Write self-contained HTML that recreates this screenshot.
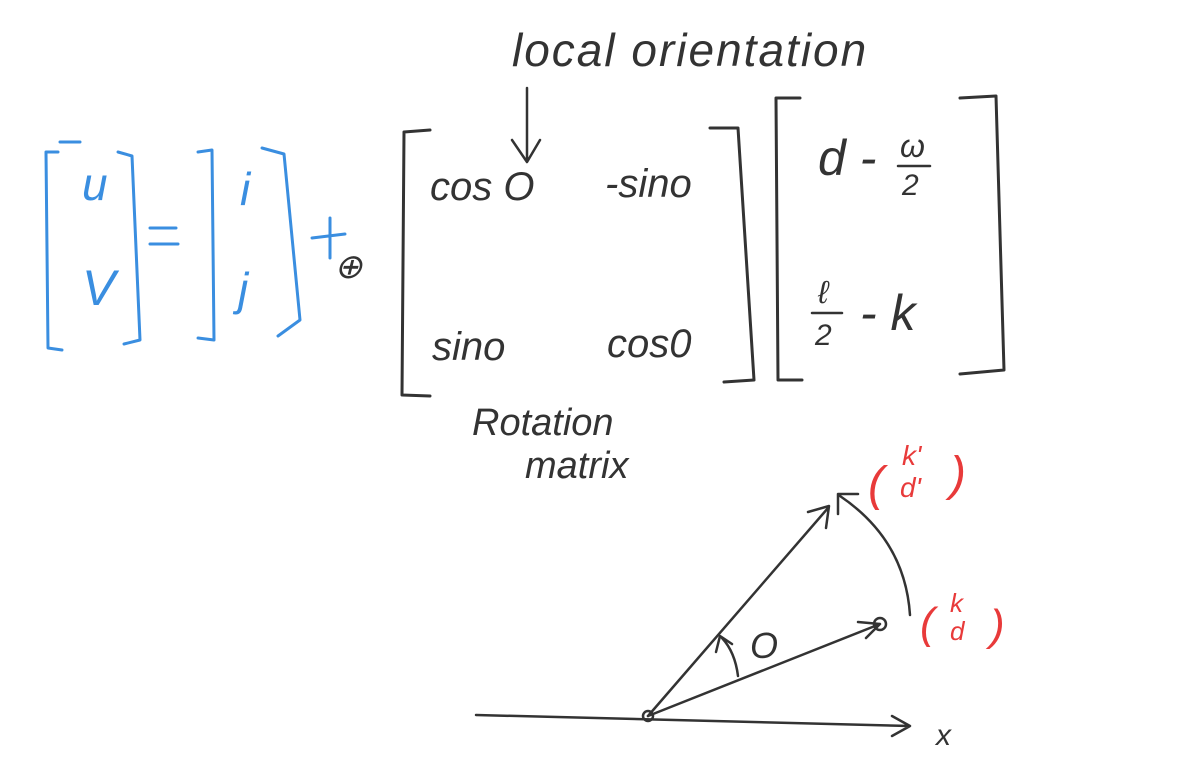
<!DOCTYPE html>
<html><head><meta charset="utf-8"><style>
html,body{margin:0;padding:0;background:#fff;}
svg{display:block;}
text{font-family:"Liberation Sans",sans-serif;font-style:italic;}
</style></head><body>
<svg width="1202" height="767" viewBox="0 0 1202 767">
<g fill="none" stroke-linecap="round" stroke-linejoin="round">
<text x="512" y="66" font-size="46" letter-spacing="2" fill="#333">local orientation</text>
<path d="M527 88 L527 160 M512 140 L527 162 L540 140" stroke="#333" stroke-width="2.5"/>
<g stroke="#3a8ee0" stroke-width="3">
<path d="M58 152 L46 152 L48 348 L62 350"/>
<path d="M118 152 L132 156 L140 340 L124 344"/>
<path d="M60 142 L80 142"/>
<path d="M198 152 L212 150 L214 340 L198 338"/>
<path d="M262 148 L284 154 L300 320 L278 336"/>
<path d="M150 228 L176 228 M150 244 L178 244"/>
</g>
<text x="82" y="200" font-size="46" fill="#3a8ee0">u</text>
<text x="82" y="305" font-size="50" fill="#3a8ee0">V</text>
<text x="240" y="205" font-size="46" fill="#3a8ee0">i</text>
<text x="238" y="305" font-size="46" fill="#3a8ee0">j</text>
<path d="M312 238 L345 234 M330 218 L330 258" stroke="#3a8ee0" stroke-width="3"/>
<text x="334" y="278" font-size="34" fill="#333">⊕</text>
<g stroke="#333" stroke-width="3">
<path d="M430 130 L404 132 L402 395 L430 396"/>
<path d="M710 128 L738 128 L754 380 L724 382"/>
<path d="M800 98 L776 98 L778 380 L802 380"/>
<path d="M960 98 L996 96 L1004 370 L960 374"/>
</g>
<text x="430" y="200" font-size="40" fill="#333">cos O</text>
<text x="605" y="197" font-size="40" fill="#333">-sino</text>
<text x="432" y="360" font-size="40" fill="#333">sino</text>
<text x="607" y="357" font-size="40" fill="#333">cos0</text>
<text x="818" y="175" font-size="50" fill="#333" font-style="normal">d -</text>
<text x="900" y="157" font-size="32" fill="#333">ω</text>
<path d="M898 166 L930 166" stroke="#333" stroke-width="2.5"/>
<text x="902" y="195" font-size="30" fill="#333" font-style="normal">2</text>
<text x="818" y="303" font-size="32" fill="#333">ℓ</text>
<path d="M812 313 L842 313" stroke="#333" stroke-width="2.5"/>
<text x="815" y="345" font-size="30" fill="#333" font-style="normal">2</text>
<text x="860" y="330" font-size="50" fill="#333" font-style="normal">- k</text>
<text x="472" y="435" font-size="38" fill="#333">Rotation</text>
<text x="525" y="478" font-size="38" fill="#333">matrix</text>
<g stroke="#333" stroke-width="2.5">
<path d="M476 715 L910 726 M892 716 L910 726 L892 736"/>
<path d="M648 716 L828 508 M808 512 L829 506 L826 528"/>
<path d="M648 716 L880 624 M858 622 L880 624 L866 638"/>
<path d="M910 615 Q905 540 840 496 M838 514 L838 494 L858 494"/>
<path d="M738 676 Q735 652 722 638 M716 652 L720 636 L732 644"/>
<circle cx="648" cy="716" r="5"/>
<circle cx="880" cy="624" r="6"/>
</g>
<text x="750" y="658" font-size="36" fill="#333">O</text>
<text x="936" y="745" font-size="30" fill="#333">x</text>
<g fill="#e83a3a">
<text x="868" y="500" font-size="48" font-style="normal" fill="#e83a3a">(</text>
<text x="902" y="465" font-size="28" fill="#e83a3a">k'</text>
<text x="900" y="497" font-size="28" fill="#e83a3a">d'</text>
<text x="950" y="490" font-size="48" font-style="normal" fill="#e83a3a">)</text>
<text x="920" y="638" font-size="44" font-style="normal" fill="#e83a3a">(</text>
<text x="950" y="612" font-size="26" fill="#e83a3a">k</text>
<text x="950" y="640" font-size="26" fill="#e83a3a">d</text>
<text x="990" y="640" font-size="44" font-style="normal" fill="#e83a3a">)</text>
</g>
</g>
</svg>
</body></html>
